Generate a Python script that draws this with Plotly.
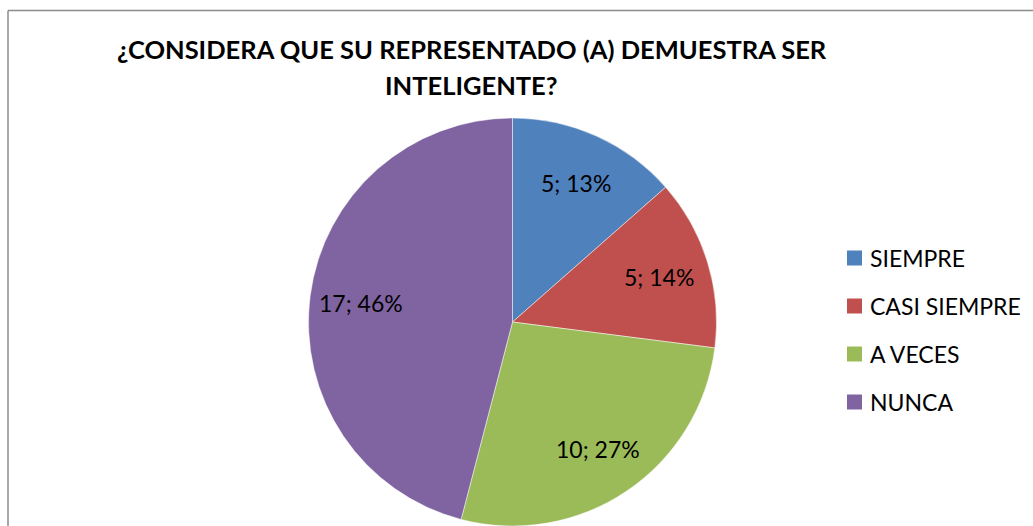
import math
import plotly.graph_objects as go

W, H = 1033, 526

categories = ["SIEMPRE", "CASI SIEMPRE", "A VECES", "NUNCA"]
values = [5, 5, 10, 17]
slice_labels = ["5; 13%", "5; 14%", "10; 27%", "17; 46%"]
colors = ["#4F81BD", "#C0504D", "#9BBB59", "#8064A2"]
title_lines = ["¿CONSIDERA QUE SU REPRESENTADO (A) DEMUESTRA SER", "INTELIGENTE?"]

FONT = "Lato"

def px_x(x):
    return x / W

def px_y(y):
    return 1 - y / H

# pie geometry (pixel domain)
DOM_X = (307.5, 717.5)
DOM_Y = (118, 526)
cx = (DOM_X[0] + DOM_X[1]) / 2
cy = (DOM_Y[0] + DOM_Y[1]) / 2
R = min(DOM_X[1] - DOM_X[0], DOM_Y[1] - DOM_Y[0]) / 2

fig = go.Figure()
fig.add_trace(go.Pie(
    labels=categories,
    values=values,
    text=slice_labels,
    textinfo="none",
    sort=False,
    direction="clockwise",
    rotation=0,
    marker=dict(colors=colors, line=dict(color="rgba(255,255,255,0.6)", width=0.8)),
    domain=dict(x=[px_x(DOM_X[0]), px_x(DOM_X[1])], y=[px_y(DOM_Y[1]), px_y(DOM_Y[0])]),
    showlegend=False,
    hovertemplate="%{label}: %{value} (%{percent})<extra></extra>",
))

shapes = []
annotations = []

# data labels placed along each slice's mid-angle (best-fit style)
total = sum(values)
cum = 0
for v, lab in zip(values, slice_labels):
    mid = (cum + v / 2) / total * 2 * math.pi
    cum += v
    lx = cx + 0.75 * R * math.sin(mid)
    ly = cy - 0.75 * R * math.cos(mid)
    annotations.append(dict(text=lab, xref="paper", yref="paper",
                            x=px_x(lx), y=px_y(ly), xanchor="center", yanchor="middle",
                            showarrow=False, font=dict(family=FONT, size=23, color="#000000")))

# chart border (left and top edges visible)
shapes.append(dict(type="line", xref="paper", yref="paper",
                   x0=px_x(8), x1=px_x(8), y0=px_y(10.5), y1=0,
                   line=dict(color="#8C8C8C", width=1.5)))
shapes.append(dict(type="line", xref="paper", yref="paper",
                   x0=px_x(8), x1=1, y0=px_y(10.5), y1=px_y(10.5),
                   line=dict(color="#8C8C8C", width=1.5)))

# title
for i, line in enumerate(title_lines):
    annotations.append(dict(text=f"<b>{line}</b>", xref="paper", yref="paper",
                            x=px_x(471.5), y=px_y(49 + 36 * i), xanchor="center", yanchor="middle",
                            showarrow=False, font=dict(family=FONT, size=25.5, color="#000000")))

# legend
for i, (cat, col) in enumerate(zip(categories, colors)):
    ry = 258 + 48 * i
    shapes.append(dict(type="rect", xref="paper", yref="paper",
                       x0=px_x(847), x1=px_x(862), y0=px_y(ry + 7.5), y1=px_y(ry - 7.5),
                       fillcolor=col, line=dict(width=0)))
    annotations.append(dict(text=cat, xref="paper", yref="paper",
                            x=px_x(868), y=px_y(ry), xanchor="left", yanchor="middle",
                            showarrow=False, font=dict(family=FONT, size=23, color="#000000")))

fig.update_layout(
    width=W, height=H,
    margin=dict(l=0, r=0, t=0, b=0),
    paper_bgcolor="white",
    plot_bgcolor="white",
    shapes=shapes,
    annotations=annotations,
)

fig.write_html("out.html",
               config={"displayModeBar": False},
               post_script="document.body.style.margin='0';document.body.style.overflow='hidden';")
